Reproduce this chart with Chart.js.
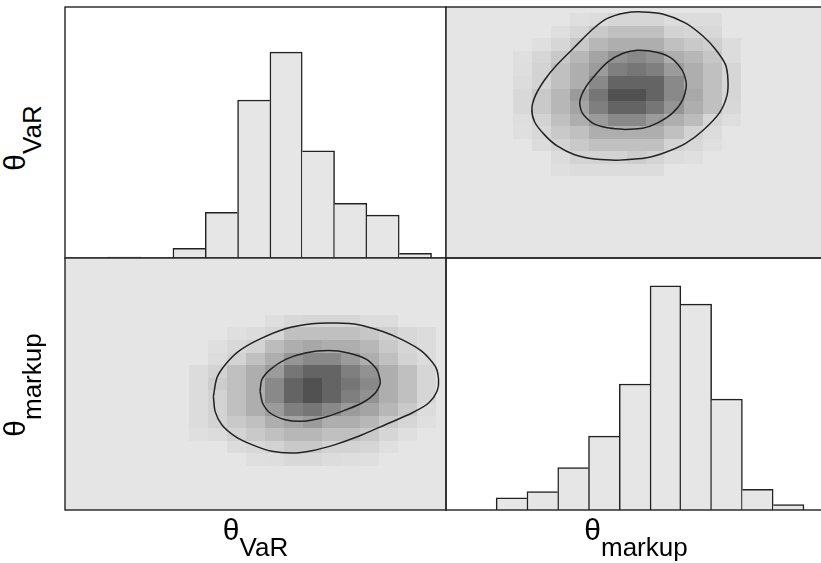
<!DOCTYPE html>
<html>
<head>
<meta charset="utf-8">
<script src="https://cdn.jsdelivr.net/npm/chart.js@4.4.1/dist/chart.umd.min.js"></script>
<style>
body{margin:0;background:#fff;width:821px;height:563px;overflow:hidden;position:relative;font-family:"Liberation Sans",Arial,sans-serif;}
canvas{position:absolute;}
.lab{position:absolute;font-size:30px;line-height:28px;height:28px;text-align:center;white-space:nowrap;color:#000;}
.lab sub{font-size:26px;position:relative;top:16px;vertical-align:baseline;}
.rot{width:200px;transform:rotate(-90deg);}
</style>
</head>
<body>
<canvas id="tl" width="387" height="257" style="left:62px;top:4px"></canvas>
<canvas id="tr" width="386" height="257" style="left:443px;top:4px"></canvas>
<canvas id="bl" width="387" height="258" style="left:62px;top:255px"></canvas>
<canvas id="br" width="386" height="258" style="left:443px;top:255px"></canvas>

<div class="lab" style="left:65px;width:381px;top:516px">θ<sub>VaR</sub></div>
<div class="lab" style="left:446px;width:380px;top:516px">θ<sub>markup</sub></div>
<div class="lab rot" style="left:-85px;top:124px">θ<sub>VaR</sub></div>
<div class="lab rot" style="left:-85px;top:371px">θ<sub>markup</sub></div>

<script>
// histograms: bin centres and counts
var varBins = [3.12, 4.817, 6.514, 8.211, 9.908, 11.605, 13.302, 14.999, 16.696, 18.393];
var varCounts = [3, 0, 31, 145, 501, 653, 340, 173, 136, 15];
var markupBins = [3.45, 5.07, 6.69, 8.31, 9.93, 11.55, 13.17, 14.79, 16.41, 18.03];
var markupCounts = [29, 44, 101, 176, 300, 534, 490, 264, 49, 13];

// 2d density grid (rows = theta_VaR, cols = theta_markup)
var densVaR = [7, 8, 9, 10, 11, 12, 13, 14, 15, 16, 17, 18, 19];
var densMarkup = [4, 5, 6, 7, 8, 9, 10, 11, 12, 13, 14, 15];
var density = [
  [0,   0,   0.3, 0.5, 0.5, 0.5, 0.5, 0.5, 0,   0,   0,   0  ],
  [0,   0,   0.5, 1,   1,   1,   1.3, 1,   0.5, 0.3, 0,   0  ],
  [0,   0.5, 1,   1.5, 2,   2,   2,   2,   1,   0.7, 0.3, 0  ],
  [0.3, 0.7, 1.5, 2,   3,   3,   3,   3,   2,   1,   0.5, 0  ],
  [0.4, 1,   2,   3,   4,   5,   5,   4,   3,   2.2, 0.8, 0.4],
  [0.7, 1.5, 2.5, 3.5, 5.5, 7,   7,   6,   4.3, 3,   2,   0.7],
  [0.7, 1.5, 2.5, 4,   6,   8,   8,   7,   5,   3.3, 2,   0.8],
  [0.5, 1,   2,   3,   5,   7,   7,   7,   5,   3,   2,   0.8],
  [0.4, 1,   2,   3,   4,   5.5, 6,   5.5, 4,   3,   2,   0.8],
  [0.3, 0.8, 1.5, 2.5, 3.5, 4.5, 5,   4.5, 3,   2.5, 1.7, 0.5],
  [0,   0.3, 0.8, 1.5, 2.5, 3,   3,   3,   2,   1.5, 1.2, 0.5],
  [0,   0,   0.3, 0.8, 1.5, 2,   2,   2,   1,   0.8, 0.7, 0  ],
  [0,   0,   0,   0.3, 0.5, 0.8, 0.8, 0.8, 0.5, 0.5, 0.5, 0  ]
];

// density contours
var outerVaR = [7.79, 7.97, 8.41, 9.11, 10.16, 11.56, 12.96, 14.18, 15.41, 16.64, 17.69, 18.74, 19.44, 19.61, 19.53, 19.09, 18.21, 16.81, 15.41, 14.18, 12.96, 11.91, 10.86, 9.81, 8.93, 8.23, 7.88];
var outerMarkup = [9.02, 10.48, 11.53, 12.59, 13.52, 14.39, 14.79, 14.84, 14.71, 14.18, 13.52, 12.59, 11.40, 10.34, 9.42, 8.49, 7.70, 6.77, 5.85, 5.19, 4.71, 4.52, 4.66, 5.19, 5.85, 6.77, 7.83];
var innerVaR = [10.24, 10.33, 10.77, 11.56, 12.61, 13.83, 14.88, 15.85, 16.37, 16.55, 16.29, 15.59, 14.54, 13.48, 12.43, 11.56, 10.77, 10.37];
var innerMarkup = [9.42, 10.34, 11.14, 11.93, 12.46, 12.65, 12.46, 11.93, 11.14, 10.08, 9.29, 8.49, 7.83, 7.30, 7.04, 7.17, 7.70, 8.49];

var lineCol = '#222';
var barFill = '#e6e6e6';

var framePlugin = {
  id: 'frame',
  afterDraw: function(chart) {
    var a = chart.chartArea, ctx = chart.ctx;
    ctx.save();
    ctx.strokeStyle = lineCol;
    ctx.lineWidth = 1.4;
    ctx.strokeRect(a.left, a.top, a.right - a.left, a.bottom - a.top);
    ctx.restore();
  }
};

function heatPlugin(swap) {
  return {
    id: 'heat',
    beforeDatasetsDraw: function(chart) {
      var a = chart.chartArea, ctx = chart.ctx, sx = chart.scales.x, sy = chart.scales.y;
      ctx.save();
      ctx.beginPath();
      ctx.rect(a.left, a.top, a.right - a.left, a.bottom - a.top);
      ctx.clip();
      ctx.fillStyle = '#e5e5e5';
      ctx.fillRect(a.left, a.top, a.right - a.left, a.bottom - a.top);
      for (var i = 0; i < densVaR.length; i++) {
        for (var j = 0; j < densMarkup.length; j++) {
          var d = density[i][j];
          if (!d) continue;
          var cx = swap ? densMarkup[j] : densVaR[i];
          var cy = swap ? densVaR[i] : densMarkup[j];
          var x0 = Math.round(sx.getPixelForValue(cx - 0.5)), x1 = Math.round(sx.getPixelForValue(cx + 0.5));
          var y0 = Math.round(sy.getPixelForValue(cy + 0.5)), y1 = Math.round(sy.getPixelForValue(cy - 0.5));
          var g = Math.round(229 - 18.5 * d);
          ctx.fillStyle = 'rgb(' + g + ',' + g + ',' + g + ')';
          ctx.fillRect(x0, y0, x1 - x0, y1 - y0);
        }
      }
      ctx.restore();
    }
  };
}

function loop(xs, ys) {
  var pts = xs.map(function(v, i) { return {x: v, y: ys[i]}; });
  pts.push(pts[0]);
  return pts;
}

function contourSet(swap) {
  var sets = [[outerVaR, outerMarkup], [innerVaR, innerMarkup]];
  return sets.map(function(s) {
    return {
      data: swap ? loop(s[1], s[0]) : loop(s[0], s[1]),
      showLine: true,
      pointRadius: 0,
      borderColor: lineCol,
      borderWidth: 1.5,
      tension: 0.25,
      fill: false
    };
  });
}

function edgeWidth(ctx) {
  var data = ctx.dataset.data, i = ctx.dataIndex;
  var h = data[i].y;
  var prev = i > 0 ? data[i - 1].y : 0;
  var next = i < data.length - 1 ? data[i + 1].y : 0;
  return {top: 1.5, bottom: 0, left: prev <= h ? 1.5 : 0, right: next < h ? 1.5 : 0};
}

function baseOpts(yMax) {
  return {
    responsive: false,
    animation: false,
    events: [],
    layout: {padding: 3},
    plugins: {legend: {display: false}, tooltip: {enabled: false}},
    scales: {
      x: {type: 'linear', min: 0, max: 20, display: false, offset: false, ticks: {stepSize: 5}},
      y: {type: 'linear', min: 0, max: yMax, display: false}
    }
  };
}

function histChart(id, bins, counts, yMax) {
  return new Chart(document.getElementById(id), {
    type: 'bar',
    data: {
      datasets: [{
        data: bins.map(function(b, i) { return {x: b, y: counts[i]}; }),
        backgroundColor: barFill,
        borderColor: lineCol,
        borderWidth: edgeWidth,
        borderSkipped: false,
        barPercentage: 1,
        categoryPercentage: 1
      }]
    },
    options: baseOpts(yMax),
    plugins: [framePlugin]
  });
}

function densChart(id, swap) {
  return new Chart(document.getElementById(id), {
    type: 'scatter',
    data: {datasets: contourSet(swap)},
    options: baseOpts(20),
    plugins: [heatPlugin(swap), framePlugin]
  });
}

histChart('tl', varBins, varCounts, 796);
densChart('tr', true);
densChart('bl', false);
histChart('br', markupBins, markupCounts, 600);
</script>
</body>
</html>
